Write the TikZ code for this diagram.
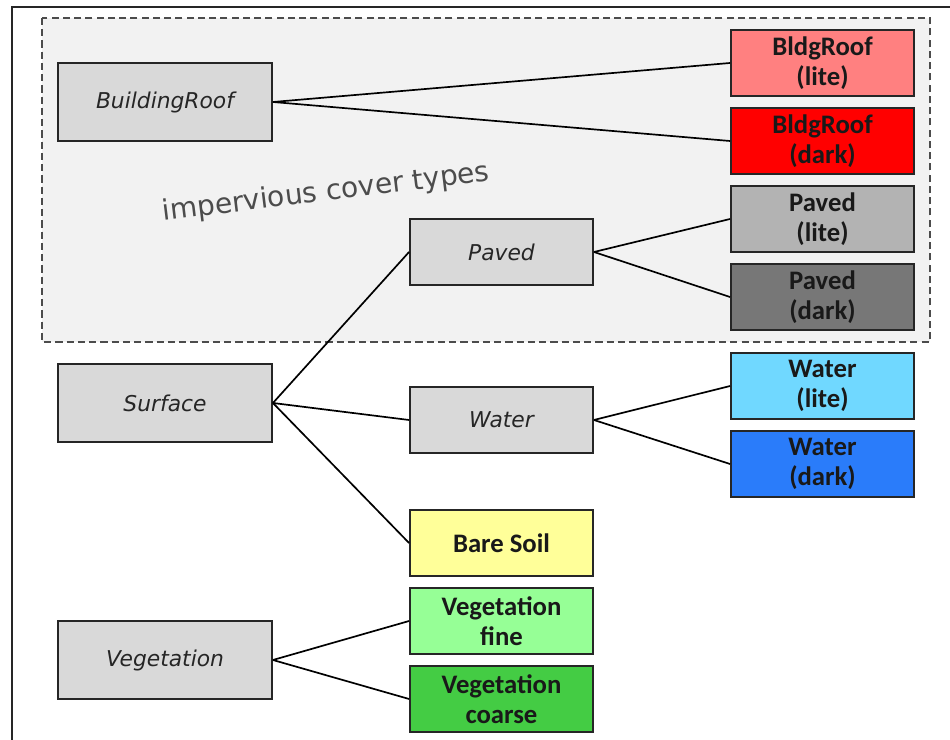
\documentclass[tikz,border=0pt]{standalone}
\usepackage{fontspec}
\setmainfont{Carlito}
\newfontfamily\dejavu{DejaVu Sans}
\usepackage{tikz}

\definecolor{roofliteC}{RGB}{255,128,128}
\definecolor{roofdarkC}{RGB}{255,0,0}
\definecolor{pavedliteC}{RGB}{179,179,179}
\definecolor{paveddarkC}{RGB}{119,119,119}
\definecolor{waterliteC}{RGB}{112,216,255}
\definecolor{waterdarkC}{RGB}{42,124,250}
\definecolor{soilC}{RGB}{255,255,153}
\definecolor{vegfineC}{RGB}{150,255,150}
\definecolor{vegcoarseC}{RGB}{68,204,68}
\definecolor{catC}{RGB}{217,217,217}
\definecolor{zoneC}{RGB}{242,242,242}

\tikzset{
  catbox/.style={draw=black!85, line width=1.3pt, fill=catC, minimum width=5.35cm, minimum height=1.95cm,
    font=\dejavu\itshape\fontsize{15.5}{18}\selectfont, text=black!85},
  subbox/.style={draw=black!85, line width=1.3pt, fill=catC, minimum width=4.575cm, minimum height=1.65cm,
    font=\dejavu\itshape\fontsize{15.5}{18}\selectfont, text=black!85},
  leafbox/.style={draw=black!85, line width=1.3pt, minimum width=4.575cm, minimum height=1.65cm,
    align=center, font=\bfseries\fontsize{19}{21}\selectfont, text=black!90},
  link/.style={line width=1.2pt, black}
}

\begin{document}
\begin{tikzpicture}[x=0.025cm, y=-0.025cm]
			%%%%% FRAME %%%%%
			\clip (0, 0) rectangle (950, 740);
			\fill[white] (0, 0) rectangle (950, 740);
			\draw[line width=1.2pt, black!85] (12, 760) -- (12, 7) -- (970, 7);
			
			\draw[dash pattern=on 5pt off 3pt, line width=0.9pt, black!70, fill=zoneC] (42, 18) rectangle (930, 342);
			\node[rotate=7, text=black!70, font=\dejavu\fontsize{20}{24}\selectfont] (zonelabel) at (326, 193) {impervious cover types};
			
			%%%%% LEFT COLUMN %%%%%
			\node[catbox] (roof) at (165, 102) {BuildingRoof};
			\node[catbox] (surface) at (165, 403) {Surface};
			\node[catbox] (veg) at (165, 660) {Vegetation};
			
			%%%%% MIDDLE COLUMN %%%%%
			\node[subbox] (paved) at (501.5, 252) {Paved};
			\node[subbox] (water) at (501.5, 420) {Water};
			\node[leafbox, fill=soilC] (soil) at (501.5, 543) {Bare Soil};
			\node[leafbox, fill=vegfineC] (vegfine) at (501.5, 621) {Vegetation\\fine};
			\node[leafbox, fill=vegcoarseC] (vegcoarse) at (501.5, 699) {Vegetation\\coarse};
			
			%%%%% RIGHT COLUMN %%%%%
			\node[leafbox, fill=roofliteC] (rooflite) at (822.5, 63) {BldgRoof\\(lite)};
			\node[leafbox, fill=roofdarkC] (roofdark) at (822.5, 141) {BldgRoof\\(dark)};
			\node[leafbox, fill=pavedliteC] (pavedlite) at (822.5, 219) {Paved\\(lite)};
			\node[leafbox, fill=paveddarkC] (paveddark) at (822.5, 297) {Paved\\(dark)};
			\node[leafbox, fill=waterliteC] (waterlite) at (822.5, 386) {Water\\(lite)};
			\node[leafbox, fill=waterdarkC] (waterdark) at (822.5, 464) {Water\\(dark)};
			
			%%%%% LINKS %%%%%
			\draw[link] (roof.east) -- (rooflite.west);
			\draw[link] (roof.east) -- (roofdark.west);
			
			\draw[link] (surface.east) -- (paved.west);
			\draw[link] (surface.east) -- (water.west);
			\draw[link] (surface.east) -- (soil.west);
			
			\draw[link] (paved.east) -- (pavedlite.west);
			\draw[link] (paved.east) -- (paveddark.west);
			\draw[link] (water.east) -- (waterlite.west);
			\draw[link] (water.east) -- (waterdark.west);
			
			\draw[link] (veg.east) -- (vegfine.west);
			\draw[link] (veg.east) -- (vegcoarse.west);
			
			%%%%% END %%%%%
\end{tikzpicture}
\end{document}
